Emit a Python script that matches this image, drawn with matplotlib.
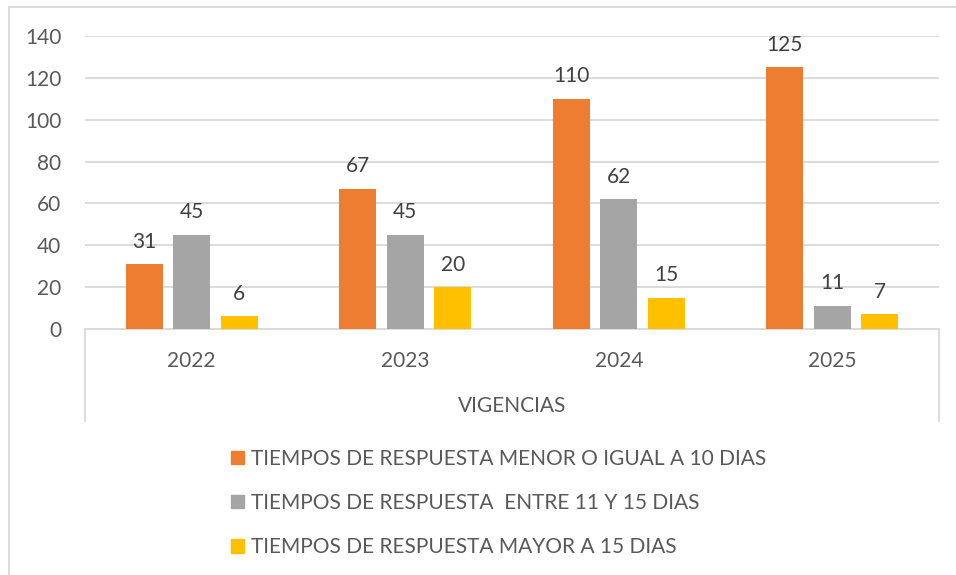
import numpy as np
import matplotlib
matplotlib.use("Agg")
import matplotlib.pyplot as plt
from matplotlib.lines import Line2D
from matplotlib.patches import Patch

years = ["2022", "2023", "2024", "2025"]
series_names = [
    "TIEMPOS DE RESPUESTA MENOR O IGUAL A 10 DIAS",
    "TIEMPOS DE RESPUESTA  ENTRE 11 Y 15 DIAS",
    "TIEMPOS DE RESPUESTA MAYOR A 15 DIAS",
]
menor_10 = [31, 67, 110, 125]
entre_11_15 = [45, 45, 62, 11]
mayor_15 = [6, 20, 15, 7]
colors = ["#ED7D31", "#A5A5A5", "#FFC000"]
y_ticks = [0, 20, 40, 60, 80, 100, 120, 140]

plt.rcParams["font.family"] = ["Lato", "DejaVu Sans"]
TXT = "#595959"
GRID = "#D9D9D9"
FS = 15

W, H = 956, 575
fig = plt.figure(figsize=(W / 100, H / 100), dpi=100)

# plot area in pixels: x 85..939, y 36(top=140)..329(0)
x0, x1, ytop, ybot = 85, 939, 36, 329
ax = fig.add_axes([x0 / W, 1 - ybot / H, (x1 - x0) / W, (ybot - ytop) / H])

x = np.arange(len(years))
step = 0.222
width = 0.173
for i, (vals, c, name) in enumerate(zip([menor_10, entre_11_15, mayor_15], colors, series_names)):
    bars = ax.bar(x + (i - 1) * step, vals, width, color=c, label=name, zorder=3)
    ax.bar_label(bars, padding=9, fontsize=FS, color="#404040")

ax.set_xlim(-0.5, len(years) - 0.5)
ax.set_ylim(0, 140)
ax.set_yticks(y_ticks)
ax.set_yticklabels([str(v) for v in y_ticks], fontsize=FS, color=TXT)
ax.set_xticks(x)
ax.set_xticklabels(years, fontsize=FS, color=TXT)
ax.tick_params(axis="both", length=0)
ax.tick_params(axis="x", pad=16)
ax.tick_params(axis="y", pad=17)
ax.yaxis.grid(True, color=GRID, linewidth=1.3, zorder=0)
for s in ["top", "right", "left"]:
    ax.spines[s].set_visible(False)
ax.spines["bottom"].set_color(GRID)
ax.spines["bottom"].set_linewidth(1.3)

def px_line(xs, ys):
    fig.add_artist(Line2D([v / W for v in xs], [1 - v / H for v in ys],
                          color=GRID, linewidth=1.3, transform=fig.transFigure))

# category axis box lines below axis
px_line([x0, x0], [ybot, 421])
px_line([x1, x1], [ybot, 421])
# chart frame (cut at right/bottom)
px_line([9, 9], [7, H])
px_line([9, W], [7, 7])

fig.text((x0 + x1) / 2 / W, 1 - 406 / H, "VIGENCIAS", ha="center", va="center",
         fontsize=FS, color=TXT)

handles = [Patch(color=c) for c in colors]
fig.legend(handles, series_names, loc="upper left",
           bbox_to_anchor=(231 / W, 1 - 449 / H), frameon=False,
           fontsize=FS, labelcolor=TXT, handlelength=0.6, handleheight=0.6,
           handletextpad=0.35, labelspacing=1.16, borderpad=0, borderaxespad=0)

fig.savefig("out.png", dpi=100)
